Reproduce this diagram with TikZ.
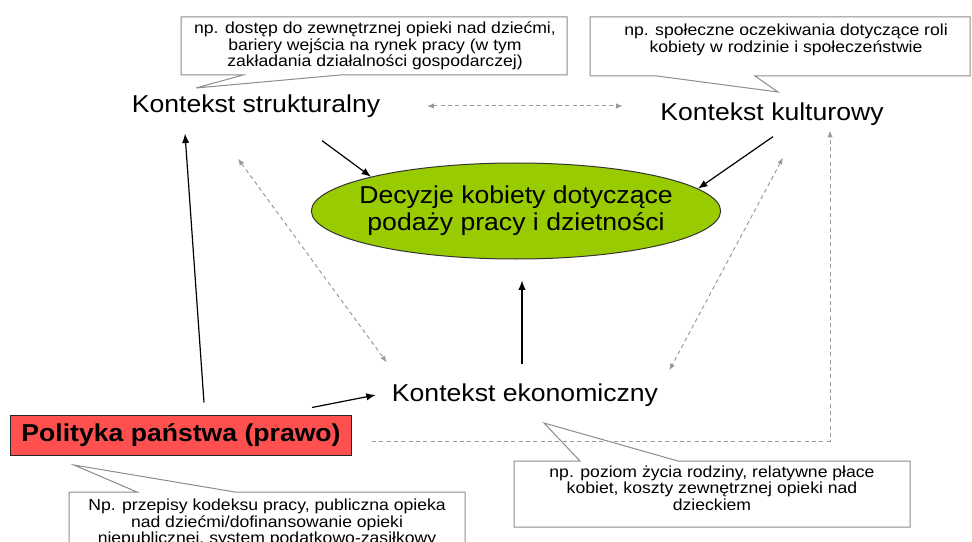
\documentclass[tikz,border=0pt]{standalone}
\usepackage{fontspec}
\setmainfont{Liberation Sans}[FakeStretch=1.09]
\newfontfamily\notefont{Liberation Sans}[FakeStretch=1.1]
\usetikzlibrary{shapes.geometric,arrows.meta}

\definecolor{decgreen}{HTML}{99CC00}
\definecolor{polred}{HTML}{FF5050}
\definecolor{dashgray}{HTML}{9A9A9A}
\definecolor{notegray}{HTML}{8C8C8C}

\tikzset{
  ctx/.style={inner sep=0pt, font=\fontsize{18.3}{20.5}\selectfont, align=center},
  notetext/.style={inner sep=0pt, align=center, font=\notefont\fontsize{12}{12.4}\selectfont},
  notebox/.style={draw=notegray, fill=white, line width=0.75pt},
  arr/.style={-{Latex[length=7pt,width=5.5pt]}, line width=0.9pt},
  dasharr/.style={{Latex[length=5pt,width=4pt]}-{Latex[length=5pt,width=4pt]}, dashgray, line width=0.75pt, dash pattern=on 3pt off 2.5pt},
  dashline/.style={-{Latex[length=5pt,width=4pt]}, dashgray, line width=0.75pt, dash pattern=on 3pt off 2.5pt},
  polbox/.style={draw=black!85, fill=polred, line width=0.75pt, minimum width=255.75pt, minimum height=30pt, inner sep=0pt},
}

\begin{document}
\begin{tikzpicture}[x=0.75pt, y=-0.75pt]
\useasboundingbox (0,0) rectangle (972,542);
% Callouts
    \draw[notebox] (181,17) -- (567,17) -- (567,75) -- (340,75) -- (196,88) -- (243,75) -- (181,75) -- cycle;
    \node[notetext] (noteStrukt) at (375,46) {np. dostęp do zewnętrznej opieki nad dziećmi,\\bariery wejścia na rynek pracy (w tym\\zakładania działalności gospodarczej)};
    \draw[notebox] (590,17) -- (970,17) -- (970,76) -- (755,76) -- (778,92) -- (657,76) -- (590,76) -- cycle;
    \node[notetext] (noteKult) at (786,40) {np. społeczne oczekiwania dotyczące roli\\kobiety w rodzinie i społeczeństwie};
    \draw[notebox] (69,492) -- (137,492) -- (74,465) -- (235,492) -- (465,492) -- (465,580) -- (69,580) -- cycle;
    \node[notetext, anchor=north] (notePolityka) at (267,499) {Np. przepisy kodeksu pracy, publiczna opieka\\nad dziećmi/dofinansowanie opieki\\niepublicznej, system podatkowo-zasiłkowy};
    \draw[notebox] (514,461) -- (580,461) -- (544,423) -- (678,461) -- (910,461) -- (910,527) -- (514,527) -- cycle;
    \node[notetext] (noteEkon) at (712,488) {np. poziom życia rodziny, relatywne płace\\kobiet, koszty zewnętrznej opieki nad\\dzieckiem};
% Main nodes
    \node[ctx] (strukt) at (256,106) {Kontekst strukturalny};
    \node[ctx] (kult) at (772,114) {Kontekst kulturowy};
    \node[ctx, ellipse, draw=black!80, fill=decgreen, line width=0.75pt, inner xsep=-9pt, inner ysep=0pt,
          minimum width=306pt, minimum height=72pt] (decyzje) at (516,211) {Decyzje kobiety dotyczące\\podaży pracy i dzietności};
    \node[ctx] (ekon) at (525,395) {Kontekst ekonomiczny};
    \node[polbox, font=\fontsize{18.3}{20.5}\selectfont\bfseries] (polityka) at (181,435) {Polityka państwa (prawo)};
% Black arrows
    \draw[arr] ([shift={(66,23)}]strukt.south) -- (decyzje.north west);
    \draw[arr] ([shift={(1,11)}]kult.south) -- (decyzje.7);
    \draw[arr] ([shift={(-3,-19)}]ekon.north) -- ([shift={(6,21)}]decyzje.south);
    \draw[arr] ([shift={(23,-12)}]polityka.north) -- ([shift={(-71,16)}]strukt.south);
    \draw[arr] ([shift={(-40,-7)}]polityka.north east) -- ([xshift=-12]ekon.west);
% Gray dashed links
    \draw[dasharr] ([xshift=35]strukt.east) -- ([xshift=-28]strukt.east -| kult.west);
    \draw[dasharr] ([shift={(-18,41)}]strukt.south) -- ([shift={(-5,-21)}]ekon.north west);
    \draw[dasharr] ([shift={(11,32)}]kult.south) -- ([shift={(11,-13)}]ekon.north east);
    \draw[dashline] ([shift={(20,6)}]polityka.east) -| ([shift={(58,5)}]kult.south);
\end{tikzpicture}
\end{document}
